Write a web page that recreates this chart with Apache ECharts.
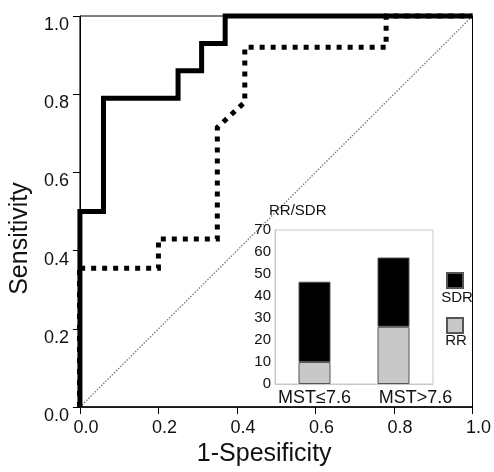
<!DOCTYPE html>
<html lang="en">
<head>
    <meta charset="UTF-8">
    <title>ROC</title>
    <script src="https://cdn.jsdelivr.net/npm/echarts@6/dist/echarts.min.js"></script>
    <style>
        html, body { margin: 0; padding: 0; background: #fff; }
        #chart1 { width: 494px; height: 472px; }
    </style>
</head>
<body>
<div id="chart1"></div>
<script>
    // ROC curves (x = 1-specificity, y = sensitivity)
    var solidX = [0, 0, 0.06, 0.06, 0.25, 0.25, 0.31, 0.31, 0.37, 0.37, 1];
    var solidY = [0, 0.5, 0.5, 0.79, 0.79, 0.86, 0.86, 0.93, 0.93, 1, 1];
    var dashX = [-0.01, -0.01, 0.2, 0.2, 0.35, 0.35, 0.42, 0.42, 0.78, 0.78, 1];
    var dashY = [0, 0.355, 0.355, 0.43, 0.43, 0.715, 0.78, 0.92, 0.92, 1, 1];
    var refX = [0, 1];
    var refY = [0, 1];
    var mainTicks = [0, 0.2, 0.4, 0.6, 0.8, 1.0];

    // inset bar chart
    var groups = ['MST≤7.6', 'MST>7.6'];
    var rrValues = [10, 26];
    var sdrValues = [36.5, 31.5];
    var seriesNames = ['SDR', 'RR'];

    function pairs(xs, ys) {
        return xs.map(function (x, i) { return [x, ys[i]]; });
    }

    var font = 'Liberation Sans, Arial, sans-serif';
    var myChart1 = echarts.init(document.getElementById('chart1'));

    myChart1.setOption({
        animation: false,
        textStyle: { fontFamily: font },
        grid: [
            { left: 76, right: 21, top: 16, bottom: 62, show: true, borderColor: '#000', borderWidth: 1 },
            { left: 275, right: 61, top: 230, bottom: 88, show: true, borderColor: '#c8c8c8', borderWidth: 1,
              backgroundColor: '#fff', z: 10 }
        ],
        xAxis: [{
            type: 'value', gridIndex: 0, min: mainTicks[0], max: mainTicks[mainTicks.length - 1], interval: 0.2,
            name: '1-Spesificity', nameLocation: 'middle', nameGap: 34,
            nameTextStyle: { fontSize: 25, color: '#111', padding: [0, 24, 0, 0] },
            axisLine: { lineStyle: { color: '#000', width: 1.5 } },
            axisTick: { length: 7, lineStyle: { color: '#000' } },
            axisLabel: { fontSize: 18, color: '#111', margin: 12, padding: [0, 0, 0, 12],
                formatter: function (v) { return v.toFixed(1); } },
            splitLine: { show: false }
        }, {
            type: 'category', gridIndex: 1, data: groups, z: 11,
            axisLine: { lineStyle: { color: '#c8c8c8' } },
            axisTick: { inside: true, length: 4, lineStyle: { color: '#999' } },
            axisLabel: { fontSize: 18, color: '#111', margin: 5, interval: 0,
                formatter: function (v, i) { return i === 1 ? '{r|' + v + '}' : v; },
                rich: { r: { fontSize: 18, color: '#111', padding: [0, 0, 0, 44] } } }
        }],
        yAxis: [{
            type: 'value', gridIndex: 0, min: mainTicks[0], max: mainTicks[mainTicks.length - 1], interval: 0.2,
            name: 'Sensitivity', nameLocation: 'middle', nameGap: 44,
            nameTextStyle: { fontSize: 25, color: '#111', padding: [0, 54, 0, 0] },
            axisLine: { lineStyle: { color: '#000', width: 1 } },
            axisTick: { length: 7, lineStyle: { color: '#000' } },
            axisLabel: { fontSize: 18, color: '#111', margin: 11, verticalAlign: 'top',
                formatter: function (v) { return v.toFixed(1); } },
            splitLine: { show: false }
        }, {
            type: 'value', gridIndex: 1, min: 0, max: 70, interval: 10, z: 11,
            name: 'RR/SDR', nameLocation: 'end', nameGap: 12,
            nameTextStyle: { fontSize: 15, color: '#111', align: 'left', padding: [0, 0, 0, -6] },
            axisLine: { show: true, lineStyle: { color: '#c8c8c8' } },
            axisTick: { show: false },
            axisLabel: { fontSize: 15, color: '#111', margin: 4, padding: [8, 0, 0, 0] },
            splitLine: { show: false }
        }],
        legend: {
            data: seriesNames, orient: 'vertical', left: 446, top: 272, padding: 0,
            itemWidth: 16, itemHeight: 15, itemGap: 28, icon: 'rect',
            formatter: function () { return ''; },
            textStyle: { fontSize: 10 }
        },
        graphic: [
            { type: 'text', z: 20, style: { text: seriesNames[0], x: 457, y: 298, fontSize: 15, fontFamily: font,
                fill: '#111', align: 'center', verticalAlign: 'middle' } },
            { type: 'text', z: 20, style: { text: seriesNames[1], x: 456, y: 341, fontSize: 15, fontFamily: font,
                fill: '#111', align: 'center', verticalAlign: 'middle' } }
        ],
        series: [{
            name: 'reference', type: 'line', xAxisIndex: 0, yAxisIndex: 0, data: pairs(refX, refY),
            symbol: 'none', z: 1, silent: true,
            lineStyle: { color: '#777', width: 1.3, type: [1.5, 1.5] }
        }, {
            name: 'dashed', type: 'line', xAxisIndex: 0, yAxisIndex: 0, data: pairs(dashX, dashY),
            symbol: 'none', clip: false, z: 2,
            lineStyle: { color: '#000', width: 5, type: [5, 6], cap: 'butt', join: 'miter' }
        }, {
            name: 'solid', type: 'line', xAxisIndex: 0, yAxisIndex: 0, data: pairs(solidX, solidY),
            symbol: 'none', clip: false, z: 3,
            lineStyle: { color: '#000', width: 5, join: 'miter', cap: 'butt' }
        }, {
            name: seriesNames[1], type: 'bar', xAxisIndex: 1, yAxisIndex: 1, stack: 'all', data: rrValues,
            barWidth: 32, z: 12,
            itemStyle: { color: '#c8c8c8', borderColor: '#555', borderWidth: 1 }
        }, {
            name: seriesNames[0], type: 'bar', xAxisIndex: 1, yAxisIndex: 1, stack: 'all', data: sdrValues,
            barWidth: 32, z: 12,
            itemStyle: { color: '#000', borderColor: '#555', borderWidth: 1 }
        }]
    });
</script>
</body>
</html>
